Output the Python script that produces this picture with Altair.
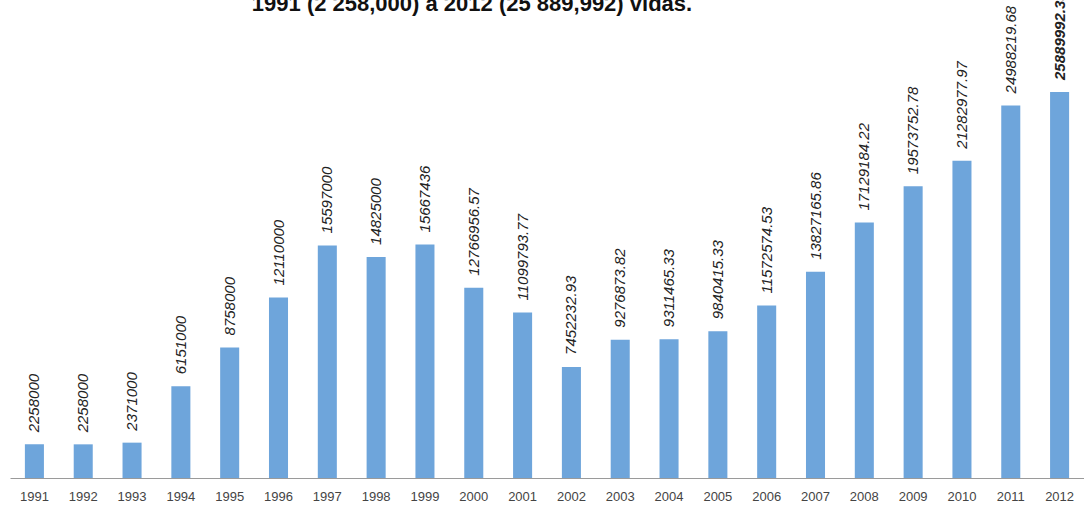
import altair as alt
import pandas as pd

# Lives saved per year, 1991-2012
years = [str(y) for y in range(1991, 2013)]
values = [
    2258000, 2258000, 2371000, 6151000, 8758000, 12110000, 15597000,
    14825000, 15667436, 12766956.57, 11099793.77, 7452232.93, 9276873.82,
    9311465.33, 9840415.33, 11572574.53, 13827165.86, 17129184.22,
    19573752.78, 21282977.97, 24988219.68, 25889992.35,
]
labels = [
    "2258000", "2258000", "2371000", "6151000", "8758000", "12110000",
    "15597000", "14825000", "15667436", "12766956.57", "11099793.77",
    "7452232.93", "9276873.82", "9311465.33", "9840415.33", "11572574.53",
    "13827165.86", "17129184.22", "19573752.78", "21282977.97",
    "24988219.68", "25889992.35",
]
title_text = "1991 (2 258,000) a 2012 (25 889,992) vidas."

df = pd.DataFrame({"year": years, "value": values, "label": labels})

x = alt.X(
    "year:N",
    sort=None,
    title=None,
    scale=alt.Scale(paddingInner=0.61, paddingOuter=0.305),
    axis=alt.Axis(
        labelAngle=0,
        ticks=False,
        domain=True,
        domainColor="#9a9a9a",
        domainWidth=1,
        labelFont="Liberation Sans",
        labelFontSize=13,
        labelColor="#444444",
        labelPadding=12,
        grid=False,
    ),
)
y = alt.Y(
    "value:Q",
    title=None,
    scale=alt.Scale(domain=[0, 32060000], nice=False, zero=True),
    axis=None,
)

base = alt.Chart(df).encode(x=x, y=y)

bars = base.mark_bar(color="#6EA5DB")

text_style = dict(
    angle=270,
    align="left",
    baseline="middle",
    dx=12,
    font="Liberation Sans",
    fontSize=15,
    fontStyle="italic",
    color="#222222",
)

# Value labels; the final year is set in bold
text = base.mark_text(**text_style).encode(text="label:N").transform_filter(
    "datum.year != '2012'"
)
text_last = base.mark_text(fontWeight="bold", **text_style).encode(
    text="label:N"
).transform_filter("datum.year == '2012'")

title = alt.Chart(pd.DataFrame({"t": [title_text]})).mark_text(
    font="Liberation Sans",
    fontSize=22,
    fontWeight="bold",
    color="#111111",
    align="center",
    baseline="alphabetic",
).encode(
    text="t:N",
    x=alt.value(462),
    y=alt.value(11),
)

chart = (
    alt.layer(bars, text, text_last, title)
    .properties(
        width=1074,
        height=478,
        autosize=alt.AutoSizeParams(type="none"),
        padding={"left": 10, "right": 0, "top": 0, "bottom": 27},
        background="white",
    )
    .configure_view(stroke=None)
)

chart.save("out.html", embed_options={"renderer": "svg", "actions": False})
